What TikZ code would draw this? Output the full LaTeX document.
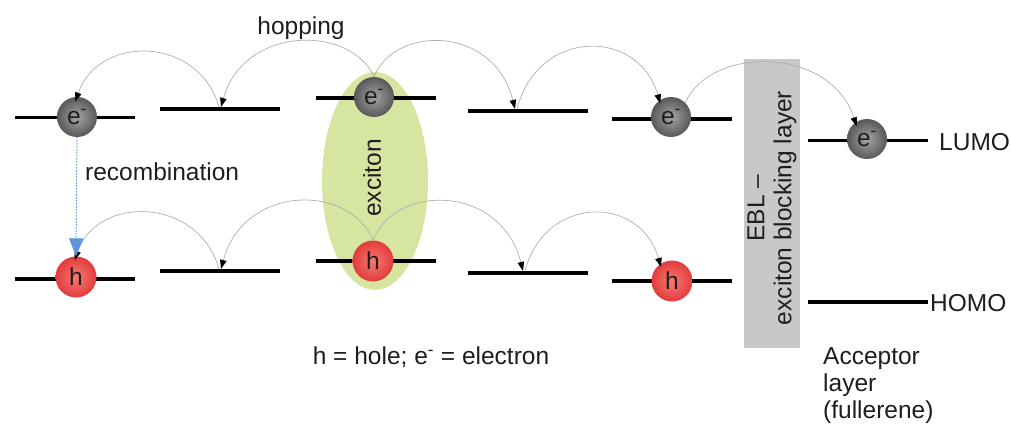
\documentclass[tikz,border=0pt]{standalone}
\usepackage{fontspec}
\setmainfont{Liberation Sans}
\usetikzlibrary{arrows.meta,shapes.geometric}
\definecolor{excitonc}{RGB}{214,230,160}
\definecolor{eblc}{RGB}{200,200,200}
\definecolor{recc}{RGB}{95,150,215}
\definecolor{hopc}{RGB}{175,175,175}
\definecolor{txtc}{RGB}{30,30,30}
\definecolor{ein}{RGB}{165,165,165}
\definecolor{eout}{RGB}{88,88,88}
\definecolor{hin}{RGB}{247,120,115}
\definecolor{hout}{RGB}{226,60,60}
\begin{document}
\begin{tikzpicture}[x=1pt,y=-1pt,
  font=\fontsize{24.5}{27}\selectfont, text=txtc,
  lev/.style={fill=black, draw=none, minimum width=120pt, minimum height=3.8pt, inner sep=0pt},
  elec/.style={circle, minimum size=40pt, inner sep=0pt, inner color=ein, outer color=eout},
  hole/.style={circle, minimum size=41pt, inner sep=0pt, inner color=hin, outer color=hout},
  hop/.style={draw=hopc, line width=0.7pt, -{Triangle[length=9pt,width=6.5pt,color=black]}},
  rec/.style={draw=recc, line width=1pt, dash pattern=on 1.4pt off 1.6pt, -{Triangle[length=18pt,width=14pt,color=recc]}},
  lab/.style={inner sep=0pt}
]
\useasboundingbox (0,0) rectangle (1011,425);

% exciton ellipse and EBL layer
\node[ellipse, fill=excitonc, minimum width=106pt, minimum height=218pt, inner sep=0pt] (exc) at (375,181) {};
\node[lab, rotate=90] (exclab) at (372,178) {exciton};
\node[fill=eblc, minimum width=56pt, minimum height=289pt, inner sep=0pt] (ebl) at (772,203.5) {};
\node[lab, rotate=90, align=center] (ebllab) at (772,208) {EBL {--}\\exciton blocking layer};

% energy levels
\node[lev] (tl1) at (75,117.5) {};
\node[lev] (tl2) at (220,109) {};
\node[lev] (tl3) at (376,98) {};
\node[lev] (tl4) at (528,111) {};
\node[lev] (tl5) at (672,119) {};
\node[lev] (lumo) at (868,140.5) {};
\node[lev] (bl1) at (75,279) {};
\node[lev] (bl2) at (220,271) {};
\node[lev] (bl3) at (376,261) {};
\node[lev] (bl4) at (528,273) {};
\node[lev] (bl5) at (672,281) {};
\node[lev] (homo) at (868,302) {};

% charges
\node[elec] (e1) at (77,117) {e\textsuperscript{-}};
\node[elec] (e3) at (374,97) {e\textsuperscript{-}};
\node[elec] (e5) at (671,117) {e\textsuperscript{-}};
\node[elec] (e6) at (867,139) {e\textsuperscript{-}};
\node[hole] (h1) at (76,277) {h};
\node[hole] (h3) at (373,261) {h};
\node[hole] (h5) at (672,281) {h};

% hopping arcs, upper row
\draw[hop, shorten >=-5pt] ([xshift=-1pt]tl2.north) .. controls +(-21,-72) and +(21,-62) .. (e1.north);
\draw[hop] (e3.north) .. controls +(-23,-52) and +(23,-82) .. ([xshift=1pt]tl2.north);
\draw[hop] (e3.north) .. controls +(21,-52) and +(-21,-84) .. ([xshift=-13pt]tl4.north);
\draw[hop, shorten >=-3pt] ([xshift=-11pt]tl4.north) .. controls +(21,-81) and +(-21,-73) .. (e5.125);
\draw[hop, shorten >=-4pt] (e5.45) .. controls +(25,-57) and +(-25,-77) .. (e6.125);

% hopping arcs, lower row
\draw[hop, shorten >=-4pt] ([xshift=-1pt]bl2.north) .. controls +(-21,-73) and +(21,-61) .. (h1.north);
\draw[hop] (h3.north) .. controls +(-23,-57) and +(23,-85) .. ([xshift=1pt]bl2.north);
\draw[hop] (h3.north) .. controls +(22,-57) and +(-22,-87) .. ([xshift=-5pt]bl4.north);
\draw[hop, shorten >=-3pt] ([xshift=-3pt]bl4.north) .. controls +(20,-76) and +(-20,-70) .. (h5.125);

% recombination
\draw[rec] (e1.south) -- (h1.north);

% labels
\node[lab] (hoplab) at (301,28) {hopping};
\node[lab, anchor=west] (reclab) at (85,172) {recombination};
\node[lab] (legend) at (431,357) {h = hole; e\textsuperscript{-} = electron};
\node[lab, anchor=west] (lumolab) at (939,142) {LUMO};
\node[lab, anchor=west] (homolab) at (930,303) {HOMO};
\node[lab, anchor=north west, align=left] (acclab) at (823,347) {Acceptor\\layer\\(fullerene)};
\end{tikzpicture}
\end{document}
